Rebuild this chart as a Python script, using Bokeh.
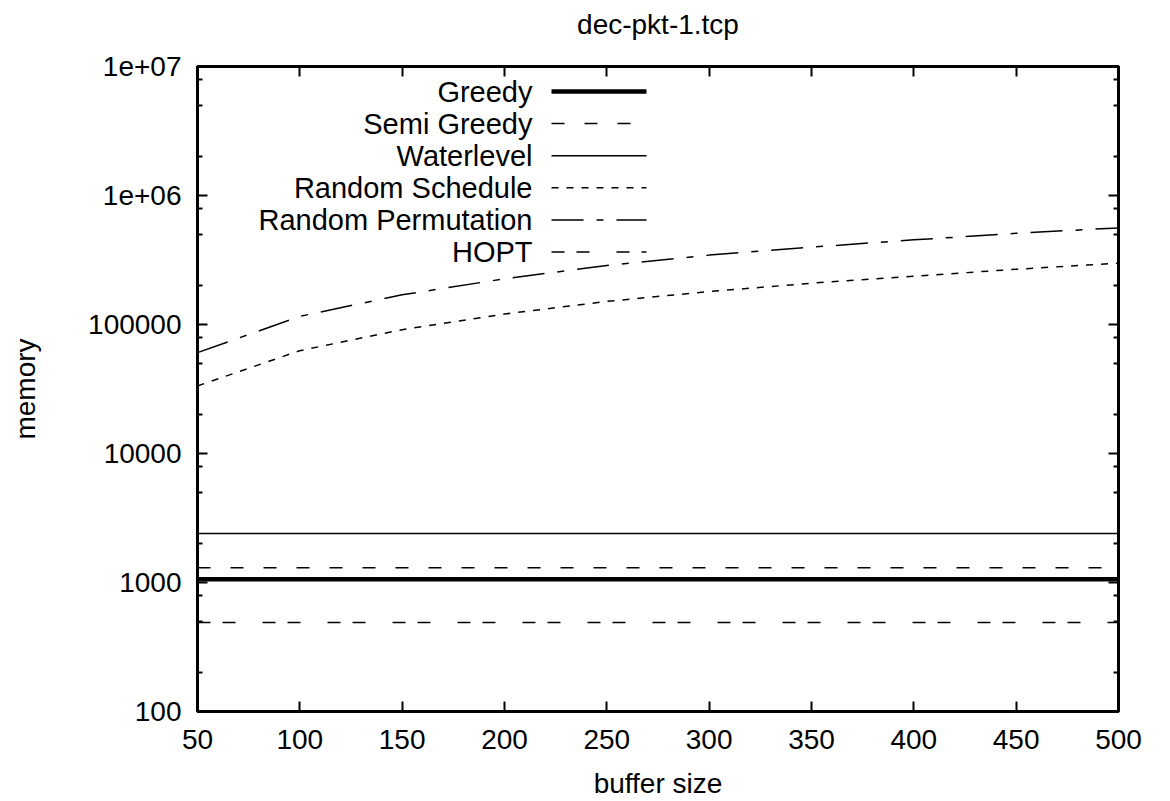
from bokeh.plotting import figure
from bokeh.models import (Range1d, FixedTicker, LogAxis, LinearAxis, Label, Arrow,
                          CustomJSTickFormatter)
from bokeh.embed import file_html
from bokeh.resources import INLINE

# ---------------- data ----------------
buffer_sizes = [50, 100, 150, 200, 250, 300, 350, 400, 450, 500]
greedy = [1060, 1060, 1060, 1060, 1060, 1060, 1060, 1060, 1060, 1060]
semi_greedy = [1300, 1300, 1300, 1300, 1300, 1300, 1300, 1300, 1300, 1300]
waterlevel = [2400, 2400, 2400, 2400, 2400, 2400, 2400, 2400, 2400, 2400]
random_schedule = [33400, 62700, 91200, 120500, 151000, 180000, 209000, 237000, 268000, 299000]
random_permutation = [60500, 115600, 170000, 226000, 287000, 345000, 398000, 453000, 509000, 561000]
hopt = [490, 490, 490, 490, 490, 490, 490, 490, 490, 490]

series_names = ["Greedy", "Semi Greedy", "Waterlevel", "Random Schedule",
                "Random Permutation", "HOPT"]
title_text = "dec-pkt-1.tcp"

x_ticks = [50, 100, 150, 200, 250, 300, 350, 400, 450, 500]
y_ticks = [100, 1000, 10000, 100000, 1000000, 10000000]
y_tick_labels = ["100", "1000", "10000", "100000", "1e+06", "1e+07"]
y_minor_ticks = [200, 500, 800, 2000, 5000, 8000, 20000, 50000, 80000,
                 200000, 500000, 800000, 2000000, 5000000, 8000000]

FONT = "Liberation Sans"
FS = "28px"
KEY_FS = "29px"

p = figure(width=1170, height=801, x_range=Range1d(50, 500), y_range=Range1d(100, 1e7),
           y_axis_type="log", output_backend="svg", toolbar_location=None,
           min_border_left=197, min_border_right=52, min_border_top=66, min_border_bottom=88,
           title=title_text)
p.title.align = "center"
p.title.text_font = FONT
p.title.text_font_size = FS
p.title.text_font_style = "normal"
p.title.text_color = "black"
p.title.standoff = 10
try:
    p.title.padding = dict(left=0, right=0, top=0, bottom=22)
except Exception:
    pass

p.xgrid.visible = False
p.ygrid.visible = False
p.outline_line_color = "black"
p.outline_line_width = 3
p.background_fill_color = "white"
p.border_fill_color = "white"

def style_axis(ax):
    ax.axis_line_color = "black"
    ax.axis_line_width = 3
    ax.major_tick_in = 10
    ax.major_tick_out = 0
    ax.minor_tick_in = 5
    ax.minor_tick_out = 0
    ax.major_tick_line_width = 2
    ax.minor_tick_line_width = 2
    ax.major_tick_line_color = "black"
    ax.minor_tick_line_color = "black"
    ax.major_label_text_font = FONT
    ax.major_label_text_font_size = FS
    ax.major_label_text_color = "black"
    ax.axis_label_text_font = FONT
    ax.axis_label_text_font_size = FS
    ax.axis_label_text_font_style = "normal"
    ax.axis_label_text_color = "black"

def mirror(ax):
    style_axis(ax)
    ax.formatter = CustomJSTickFormatter(code="return ''")
    ax.major_label_text_font_size = "1px"
    ax.major_label_standoff = 0

xt = FixedTicker(ticks=x_ticks, minor_ticks=[])
yt = FixedTicker(ticks=y_ticks, minor_ticks=y_minor_ticks)
y_overrides = {float(v): s for v, s in zip(y_ticks, y_tick_labels)}

xa = p.xaxis[0]
xa.ticker = xt
style_axis(xa)
xa.axis_label = "buffer size"
xa.major_label_standoff = 18
xa.axis_label_standoff = 16

ya = p.yaxis[0]
ya.ticker = yt
style_axis(ya)
ya.major_label_overrides = y_overrides
ya.axis_label = "memory"
ya.major_label_standoff = 16
ya.axis_label_standoff = 44

top = LinearAxis(ticker=FixedTicker(ticks=x_ticks, minor_ticks=[]))
mirror(top)
p.add_layout(top, "above")
right = LogAxis(ticker=FixedTicker(ticks=y_ticks, minor_ticks=y_minor_ticks))
mirror(right)
p.add_layout(right, "right")

styles = [
    dict(line_width=4.5, line_dash="solid"),
    dict(line_width=1.5, line_dash="13 20"),
    dict(line_width=1.5, line_dash="solid"),
    dict(line_width=1.5, line_dash="7 8"),
    dict(line_width=1.5, line_dash="32 13 7 13"),
    dict(line_width=1.5, line_dash="13 12 13 27"),
]
series = [greedy, semi_greedy, waterlevel, random_schedule, random_permutation, hopt]

for ys, st in zip(series, styles):
    p.line(buffer_sizes, ys, line_color="black", **st)

# gnuplot-style key: label right-aligned, then line sample (frame-relative screen units)
key_text_x = 335
key_line_x0 = 354
key_line_x1 = 449
key_y0 = 620
key_dy = 32.1
for i, (name, st) in enumerate(zip(series_names, styles)):
    yy = key_y0 - i * key_dy
    p.add_layout(Label(x=key_text_x, y=yy, x_units="screen", y_units="screen", text=name,
                       text_align="right", text_baseline="middle", text_font=FONT,
                       text_font_size=KEY_FS, text_color="black"))
    p.add_layout(Arrow(end=None, x_start=key_line_x0, y_start=yy, x_end=key_line_x1, y_end=yy,
                       start_units="screen", end_units="screen", line_color="black", **st))

open("out.html", "w").write(file_html(p, INLINE))
